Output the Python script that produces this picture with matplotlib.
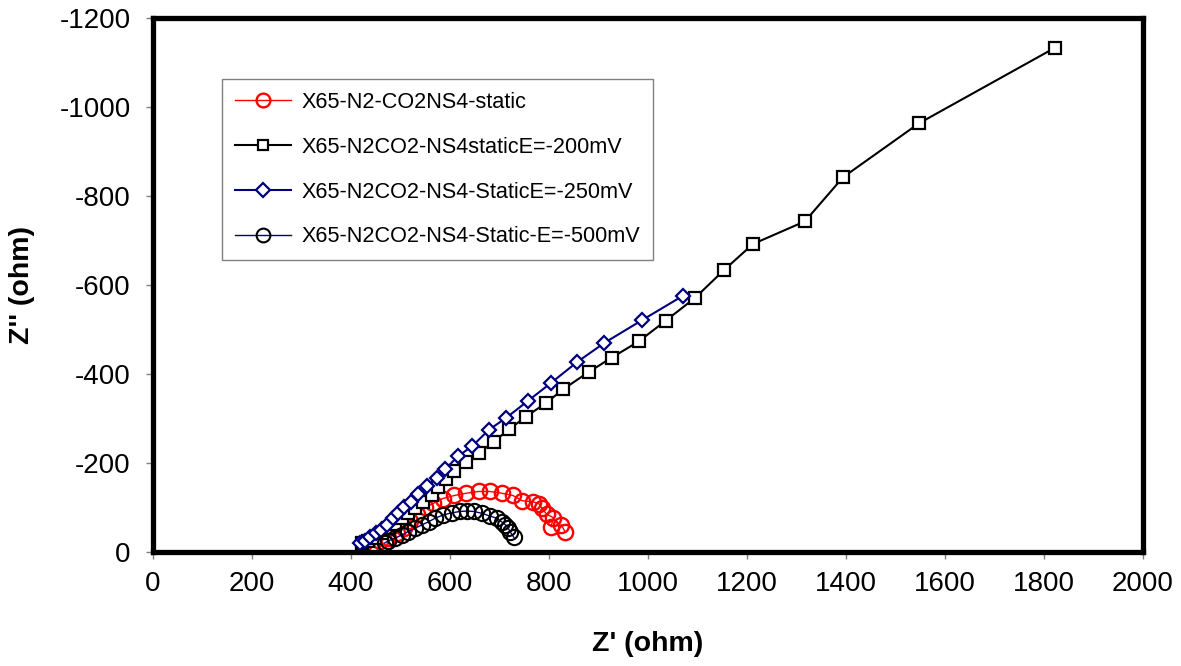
import matplotlib
matplotlib.use('Agg')
import matplotlib.pyplot as plt

plt.rcParams['font.family'] = ['Liberation Sans', 'DejaVu Sans']
plt.rcParams['axes.unicode_minus'] = False

# X65-N2-CO2NS4-static
re_static = [425, 442, 459, 475, 492, 506, 519, 533, 549, 566, 585, 609, 633, 658, 680,
             705, 727, 746, 767, 780, 786, 795, 809, 804, 825, 832]
im_static = [-16, -17, -25, -32, -42, -53, -70, -86, -100, -109, -120, -127, -132, -136, -136,
             -132, -127, -115, -113, -108, -98, -85, -77, -57, -61, -46]

# X65-N2CO2-NS4staticE=-200mV
re_200 = [423, 435, 448, 462, 475, 489, 502, 516, 529, 546, 563, 575, 592, 608, 633, 659,
          688, 720, 753, 793, 829, 881, 927, 981, 1036, 1095, 1154, 1212, 1317, 1394, 1547, 1822]
im_200 = [-20, -25, -32, -42, -53, -64, -76, -87, -98, -113, -128, -145, -164, -183, -202, -222,
          -248, -276, -304, -334, -366, -405, -437, -473, -520, -571, -634, -692, -743, -842, -963, -1133]

# X65-N2CO2-NS4-StaticE=-250mV
re_250 = [418, 428, 438, 450, 461, 472, 484, 494, 508, 521, 536, 554, 573, 590, 616, 645,
          678, 714, 758, 803, 857, 912, 988, 1071]
im_250 = [-20, -25, -34, -42, -49, -61, -76, -87, -100, -113, -130, -148, -167, -186, -215, -238,
          -274, -302, -340, -379, -427, -470, -521, -576]

# X65-N2CO2-NS4-Static-E=-500mV
re_500 = [468, 475, 489, 502, 516, 529, 543, 557, 570, 586, 603, 620, 634, 648, 664, 680,
          694, 704, 712, 718, 721, 729]
im_500 = [-20, -25, -31, -38, -46, -53, -61, -68, -76, -83, -88, -91, -92, -91, -87, -81,
          -76, -68, -61, -53, -46, -33]

fig = plt.figure(figsize=(11.81, 6.66), dpi=100)
ax = fig.add_axes([0.1296, 0.1712, 0.8382, 0.8018])

ax.plot(re_static, im_static, color='red', lw=1.0, marker='o', ms=11, mfc='none',
        mec='red', mew=1.7, label='X65-N2-CO2NS4-static')
ax.plot(re_200, im_200, color='black', lw=1.5, marker='s', ms=8.5, mfc='white',
        mec='black', mew=1.6, label='X65-N2CO2-NS4staticE=-200mV')
ax.plot(re_250, im_250, color='#000080', lw=1.5, marker='D', ms=7.5, mfc='white',
        mec='#000080', mew=1.6, label='X65-N2CO2-NS4-StaticE=-250mV')
ax.plot(re_500, im_500, color='#000080', lw=1.0, marker='o', ms=11, mfc='none',
        mec='black', mew=1.5, label='X65-N2CO2-NS4-Static-E=-500mV')

ax.set_xlim(0, 2000)
ax.set_ylim(0, -1200)
ax.set_xticks(range(0, 2001, 200))
ax.set_yticks(range(0, -1201, -200))

for sp in ax.spines.values():
    sp.set_linewidth(3.8)
    sp.set_color('black')

ax.tick_params(axis='both', direction='out', length=5, width=1, color='#808080',
               labelsize=20, top=False, right=False)
ax.tick_params(axis='x', pad=9)
ax.tick_params(axis='y', pad=11)

ax.set_xlabel("Z' (ohm)", fontsize=20.5, fontweight='bold', labelpad=24)
ax.set_ylabel("Z'' (ohm)", fontsize=20.5, fontweight='bold', labelpad=18)

leg = ax.legend(loc='upper left', bbox_to_anchor=(0.0697, 0.886), borderaxespad=0,
                fontsize=15.6, frameon=True, fancybox=False, edgecolor='#606060',
                handlelength=2.6, handletextpad=0.45, labelspacing=1.1,
                borderpad=0.6, markerscale=0.9)
leg.get_frame().set_linewidth(1.0)

fig.savefig('out.png', dpi=100)
